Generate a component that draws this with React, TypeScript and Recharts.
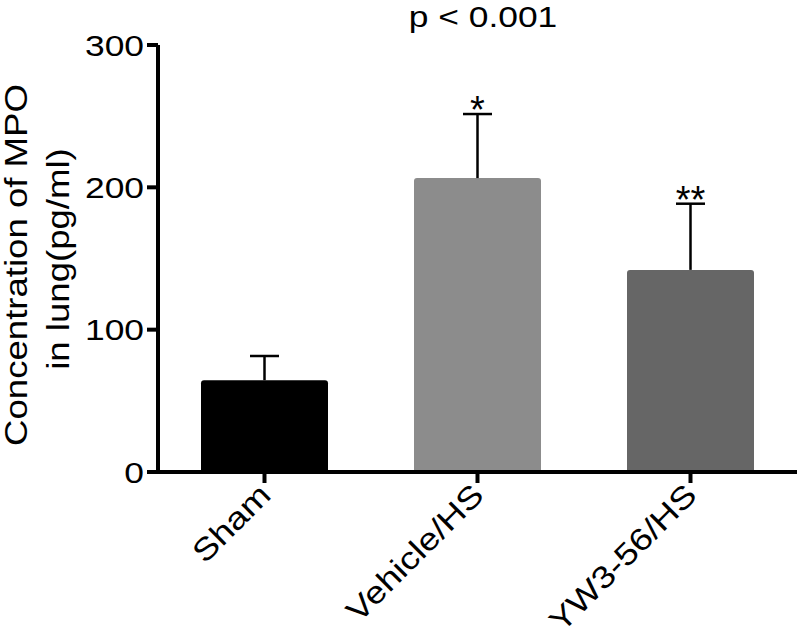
import React from 'react';
import { BarChart, Bar, XAxis, YAxis, Cell, LabelList } from 'recharts';

const groups = ['Sham', 'Vehicle/HS', 'YW3-56/HS'];
const means = [64.5, 206.5, 142];
const sds = [17, 45, 46.5];
const marks = ['', '*', '**'];
const colors = ['#000000', '#8c8c8c', '#666666'];
const yTicks = [0, 100, 200, 300];

const data = groups.map((name, i) => ({ name, mean: means[i], sd: sds[i], sig: marks[i] }));

const FONT = '"Liberation Sans", Arial, sans-serif';
const SX = 1.18; // the source font is a little wider than Arial

const Whisker = (props: any) => {
  const { x, y, width, height } = props;
  const cx = x + width / 2;
  return (
    <g stroke="#000" strokeWidth={2.5}>
      <line x1={cx} y1={y + height} x2={cx} y2={y} />
      <line x1={cx - 14.5} y1={y} x2={cx + 14.5} y2={y} />
    </g>
  );
};

const Stars = (props: any) => {
  const { x, y, width, value } = props;
  if (!value) return null;
  return (
    <text x={x + width / 2} y={y + 9} textAnchor="middle" fontSize={38} fontFamily={FONT} fill="#000">
      {value}
    </text>
  );
};

const YTick = (props: any) => {
  const { x, y, payload } = props;
  return (
    <text
      transform={`translate(${x},${y}) scale(${SX},1)`}
      textAnchor="end"
      dy="0.36em"
      fontSize={30}
      fontFamily={FONT}
      fill="#000"
    >
      {payload.value}
    </text>
  );
};

const XTick = (props: any) => {
  const { x, y, payload } = props;
  return (
    <text
      transform={`translate(${x + 8},${y + 12}) rotate(-45) scale(${SX},1)`}
      textAnchor="end"
      fontSize={31}
      fontFamily={FONT}
      fill="#000"
    >
      {payload.value}
    </text>
  );
};

const YLabel = () => (
  <g fontSize={31} fontFamily={FONT} fill="#000" textAnchor="middle">
    <text transform={`translate(27,265) rotate(-90) scale(${SX},1)`}>Concentration of MPO</text>
    <text transform={`translate(69,259) rotate(-90) scale(${SX},1)`}>in lung(pg/ml)</text>
  </g>
);

export default function App() {
  return (
    <div style={{ position: 'absolute', left: 0, top: 0, width: 800, height: 637, background: '#fff' }}>
      <div
        style={{
          position: 'absolute',
          left: 483,
          top: 0,
          transform: `translateX(-50%) scaleX(${SX})`,
          fontFamily: FONT,
          fontSize: 30,
          lineHeight: '34px',
          whiteSpace: 'nowrap',
          color: '#000',
        }}
      >
        p &lt; 0.001
      </div>
      <BarChart width={800} height={637} data={data} margin={{ top: 45, right: 3, left: 0, bottom: 0 }}>
        <XAxis
          dataKey="name"
          height={165}
          axisLine={{ stroke: '#000', strokeWidth: 4 }}
          tickLine={{ stroke: '#000', strokeWidth: 4 }}
          tickSize={11}
          tickMargin={2}
          tick={<XTick />}
          interval={0}
        />
        <YAxis
          width={158}
          domain={[0, 300]}
          ticks={yTicks}
          axisLine={{ stroke: '#000', strokeWidth: 4 }}
          tickLine={{ stroke: '#000', strokeWidth: 4 }}
          tickSize={11}
          tickMargin={3}
          tick={<YTick />}
          label={<YLabel />}
        />
        <Bar dataKey="mean" stackId="a" barSize={127} radius={[3, 3, 0, 0]} isAnimationActive={false}>
          {data.map((d, i) => (
            <Cell key={d.name} fill={colors[i]} />
          ))}
        </Bar>
        <Bar dataKey="sd" stackId="a" barSize={127} shape={<Whisker />} isAnimationActive={false}>
          <LabelList dataKey="sig" content={<Stars />} />
        </Bar>
      </BarChart>
    </div>
  );
}
